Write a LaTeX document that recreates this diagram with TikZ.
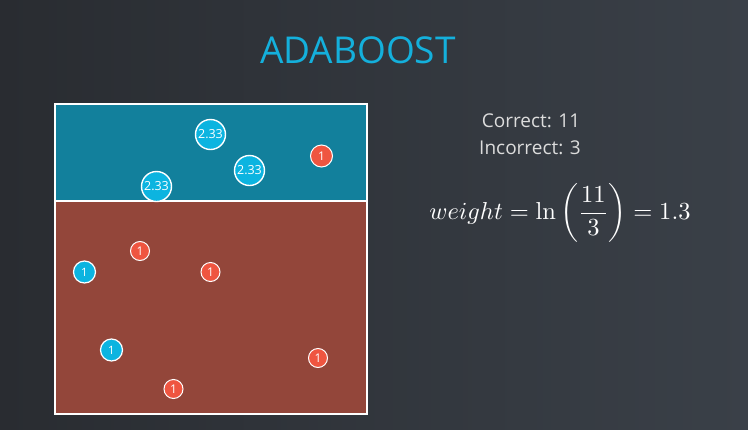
\documentclass[tikz,border=0pt]{standalone}
\usepackage[no-math]{fontspec}
\setmainfont{Open Sans}
\usepackage{amsmath}
\definecolor{bgleft}{HTML}{292C31}
\definecolor{bgright}{HTML}{3A4048}
\definecolor{teal}{HTML}{12809C}
\definecolor{brick}{HTML}{93463A}
\definecolor{dotblue}{HTML}{0CB4E0}
\definecolor{dotred}{HTML}{EF5540}
\definecolor{titleblue}{HTML}{14B0DC}
\definecolor{lightgray}{HTML}{DCDCDC}
\tikzset{
  bigdot/.style={circle, draw=white, line width=1.4pt, fill=dotblue, text=white,
    minimum size=30pt, inner sep=0pt, font=\fontsize{12.5}{12.5}\selectfont},
  bluedot/.style={circle, draw=white, line width=1.2pt, fill=dotblue, text=white,
    minimum size=22pt, inner sep=0pt, font=\fontsize{11.5}{11.5}\selectfont},
  reddot/.style={circle, draw=white, line width=1pt, fill=dotred, text=white,
    minimum size=19pt, inner sep=0pt, font=\fontsize{12}{12}\selectfont},
  infotext/.style={text=lightgray, font=\fontsize{19}{19}\selectfont}
}
\begin{document}
\begin{tikzpicture}[x=1pt, y=-1pt]
  % background
  \shade[left color=bgleft, right color=bgright] (0,0) rectangle (748,429);
  \useasboundingbox (0,0) rectangle (748,429);
  % regions
  \fill[teal] (55,104) rectangle (367,201);
  \fill[brick] (55,201) rectangle (367,414);
  \draw[white, line width=2pt] (55,201) -- (367,201);
  \draw[white, line width=2.4pt] (55,104) rectangle (367,414);
  % title
  \node[text=titleblue, font=\fontsize{37}{37}\selectfont] (title) at (358,50) {ADABOOST};
  % points
  \node[bigdot] (p1) at (210.5,134.5) {2.33};
  \node[bigdot] (p2) at (249.5,170.5) {2.33};
  \node[bigdot] (p3) at (156.5,186.5) {2.33};
  \node[reddot, minimum size=22pt] (p4) at (321.5,156) {1};
  \node[reddot] (p5) at (140,251) {1};
  \node[bluedot] (p6) at (84.5,272) {1};
  \node[reddot] (p7) at (210.5,272) {1};
  \node[bluedot] (p8) at (111.5,350) {1};
  \node[reddot] (p9) at (318,358) {1};
  \node[reddot] (p10) at (173.5,389) {1};
  % counts and weight
  \node[infotext] (correct) at (531,121) {Correct: 11};
  \node[infotext] (incorrect) at (530,148) {Incorrect: 3};
  \node[text=white, scale=2.45] (weight) at (560,213)
    {$\displaystyle weight=\ln\,\biggl(\frac{11}{3}\biggr)=1.3$};
\end{tikzpicture}
\end{document}
